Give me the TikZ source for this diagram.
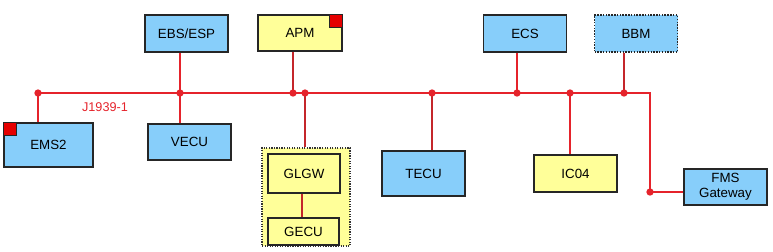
\documentclass[tikz,border=0pt]{standalone}
\usepackage{fontspec}
\setmainfont{Liberation Sans}
\usetikzlibrary{positioning}
\definecolor{ecublue}{HTML}{87CEFA}
\definecolor{ecuyellow}{HTML}{FFFF99}
\definecolor{busred}{HTML}{E5232B}
\definecolor{dropred}{HTML}{C4262B}
\begin{document}
\begin{tikzpicture}[x=0.75pt,y=-0.75pt,font=\fontsize{10}{11}\selectfont,
  ecu/.style={draw=black!85,line width=1.1pt,fill=ecublue,minimum width=62.25pt,minimum height=27.75pt,inner sep=1pt,align=center},
  yecu/.style={ecu,fill=ecuyellow},
  group/.style={draw=black!80,densely dotted,line width=0.9pt,fill=ecuyellow,minimum width=66pt,minimum height=73.5pt},
  flag/.style={draw=black!85,line width=0.6pt,fill=red!90!black,minimum size=9.75pt,inner sep=0pt},
  bus/.style={busred,line width=0.8pt},
  drop/.style={busred,line width=1.5pt},
  thin/.style={dropred,line width=0.9pt},
  dot/.style={circle,fill=busred,inner sep=0pt,minimum size=5.5pt}]
\useasboundingbox (0,0) rectangle (773,251);
% units and nodes
\node[ecu] (ebs) at (186.5,33.5) {EBS/ESP};\node[yecu,minimum width=63pt,minimum height=27pt] (apm) at (300,33) {APM};
\node[ecu] (ecs) at (525,33.5) {ECS};\node[ecu,densely dotted] (bbm) at (636,33.5) {BBM};
\node[ecu,minimum width=66.75pt,minimum height=33pt] (ems) at (48.5,145) {EMS2};
\node[ecu,minimum height=27pt] (vecu) at (189.5,142) {VECU};
\node[group] (gw) at (306,197) {};
\node[yecu,minimum width=54pt,minimum height=29.25pt] (glgw) at (304,173.5) {GLGW};
\node[yecu,minimum width=53.25pt,minimum height=20.25pt] (gecu) at (303.5,231.5) {GECU};
\node[ecu,minimum height=33.75pt] (tecu) at (423.5,173.5) {TECU};
\node[yecu] (ic) at (575.5,173.5) {IC04};
\node[ecu,minimum height=27pt,font=\fontsize{10}{11.5}\selectfont] (fms) at (725.5,187) {FMS\\Gateway};
\node[flag,anchor=north west] (emsf) at (ems.north west) {};
\node[flag,anchor=north east] (apmf) at (apm.north east) {};
% bus junctions
\coordinate (b0) at (38,93);\coordinate (b1) at (180,93);\coordinate (b2) at (293,93);\coordinate (b3) at (305,93);
\coordinate (b4) at (432,93);\coordinate (b5) at (517,93);\coordinate (b6) at (570,93);\coordinate (b7) at (624,93);
\coordinate (b8) at (650,93);\coordinate (b9) at (650,192);
\draw[bus] (b0)--(b8)--(b9)--(b9-|fms.west);
\node[busred,font=\fontsize{9.5}{10}\selectfont] (j1939) at (105,107) {J1939-1};
\draw[drop] (b0)--(b0|-ems.north);
\draw[drop] (b1|-ebs.south)--(b1|-vecu.north);
\draw[thin] (b2|-apm.south)--(b2);
\draw[thin] (b3)--(b3|-gw.north);
\draw[thin] (b4)--(b4|-tecu.north);
\draw[drop] (b5|-ecs.south)--(b5);
\draw[drop] (b6)--(b6|-ic.north);
\draw[thin] (b7|-bbm.south)--(b7);
\draw[thin] (glgw.south-|302,0)--(gecu.north-|302,0);
\foreach \j in {b0,b1,b2,b3,b4,b5,b6,b7,b9} \node[dot] (d\j) at (\j) {};
\end{tikzpicture}
\end{document}
